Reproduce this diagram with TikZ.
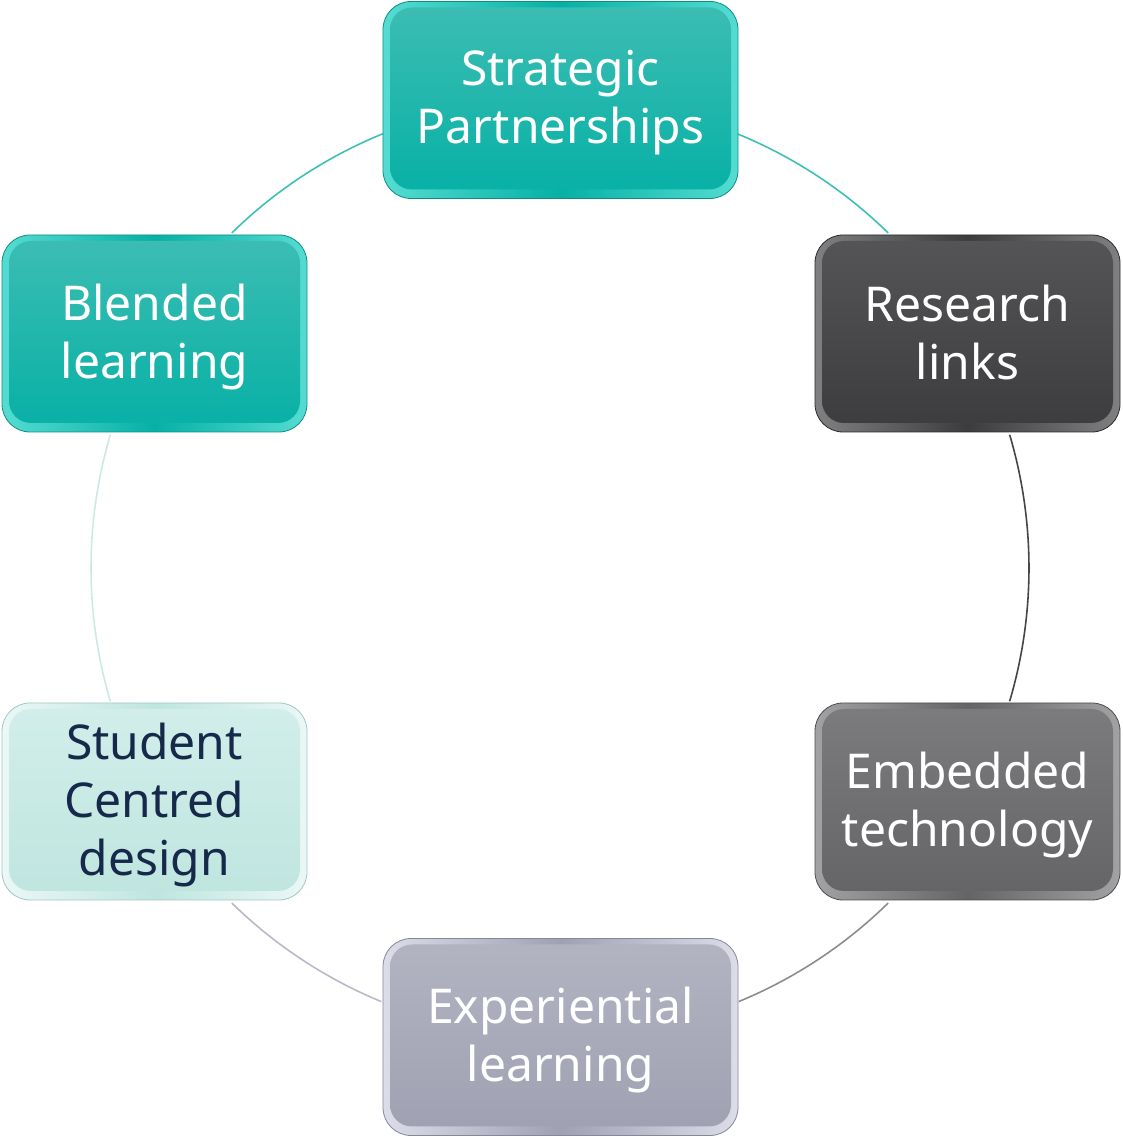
\documentclass[tikz,border=0pt]{standalone}
\usepackage{fontspec}
\setmainfont{Noto Sans}
\usetikzlibrary{calc}
\definecolor{tealE}{HTML}{55DCD2}
\definecolor{tealT}{HTML}{3DBDB4}
\definecolor{tealB}{HTML}{06B0A5}
\definecolor{tealD}{HTML}{0C8E86}
\definecolor{darkE}{HTML}{808082}
\definecolor{darkT}{HTML}{555557}
\definecolor{darkB}{HTML}{3C3C3E}
\definecolor{darkD}{HTML}{2A2A2A}
\definecolor{midE}{HTML}{A2A2A4}
\definecolor{midT}{HTML}{7C7C7E}
\definecolor{midB}{HTML}{646466}
\definecolor{midD}{HTML}{4C4C4C}
\definecolor{lavE}{HTML}{DCDDE8}
\definecolor{lavT}{HTML}{B2B4C2}
\definecolor{lavB}{HTML}{9FA1B2}
\definecolor{lavD}{HTML}{85879A}
\definecolor{mintE}{HTML}{EAF8F6}
\definecolor{mintT}{HTML}{D2EEEA}
\definecolor{mintB}{HTML}{BFE5DF}
\definecolor{mintD}{HTML}{A2C6C1}
\definecolor{navy}{HTML}{17294A}
\definecolor{arcTeal}{HTML}{3CC0B7}
\definecolor{arcDark}{HTML}{454545}
\definecolor{arcMid}{HTML}{8C8C8C}
\definecolor{arcLav}{HTML}{B8BAC8}
\definecolor{arcMint}{HTML}{CDE9E5}
\tikzset{
  card/.style n args={4}{rounded corners=28pt, draw=#4, line width=0.8pt,
    left color=#1, right color=#1, middle color=#3,
    path picture={\shade[top color=#2, bottom color=#3, rounded corners=22pt]
      ([shift={(7pt,-6pt)}]path picture bounding box.north west) rectangle
      ([shift={(-7pt,9pt)}]path picture bounding box.south east);},
    inner sep=0pt},
  cardtext/.style={font=\fontsize{48}{58}\selectfont, align=center, inner sep=0pt, text=white},
  wide/.style={minimum width=355pt, minimum height=197pt},
  narrow/.style={minimum width=305pt, minimum height=197pt},
  link/.style={line width=1.6pt}
}
\begin{document}
\begin{tikzpicture}[x=1pt,y=1pt]
\useasboundingbox (0,0) rectangle (1122,1138);
\coordinate (O) at (560,570);
% connectors (drawn first)
\draw[link,arcTeal] ($(O)+(134.4:469)$) arc[start angle=134.4, end angle=112.2, radius=469];
\draw[link,arcTeal] ($(O)+(67.8:469)$) arc[start angle=67.8, end angle=45.6, radius=469];
\draw[link,arcDark] ($(O)+(16.5:469)$) arc[start angle=16.5, end angle=-16.5, radius=469];
\draw[link,arcMid] ($(O)+(-45.6:469)$) arc[start angle=-45.6, end angle=-67.6, radius=469];
\draw[link,arcLav] ($(O)+(-112.4:469)$) arc[start angle=-112.4, end angle=-134.4, radius=469];
\draw[link,arcMint] ($(O)+(196.5:469)$) arc[start angle=196.5, end angle=163.5, radius=469];
% boxes
\node[card={tealE}{tealT}{tealB}{tealD}, wide] (strat) at (560.5,1038) {};
\node[card={darkE}{darkT}{darkB}{darkD}, narrow] (research) at (967.5,804.5) {};
\node[card={midE}{midT}{midB}{midD}, narrow] (embedded) at (967.5,336.5) {};
\node[card={lavE}{lavT}{lavB}{lavD}, wide] (exper) at (560.5,101) {};
\node[card={mintE}{mintT}{mintB}{mintD}, narrow] (student) at (154.5,336.5) {};
\node[card={tealE}{tealT}{tealB}{tealD}, narrow] (blended) at (154.5,804.5) {};
% texts
\node[cardtext] (strat-t) at ([yshift=-3pt]strat.center) {Strategic\\Partnerships};
\node[cardtext] (research-t) at ([yshift=1pt]research.center) {Research\\links};
\node[cardtext] (embedded-t) at ([yshift=-4pt]embedded.center) {Embedded\\technology};
\node[cardtext] (exper-t) at ([yshift=-3pt]exper.center) {Experiential\\learning};
\node[cardtext, text=navy] (student-t) at ([yshift=-4pt]student.center) {Student\\Centred\\design};
\node[cardtext] (blended-t) at ([yshift=-4pt]blended.center) {Blended\\learning};
\end{tikzpicture}
\end{document}
